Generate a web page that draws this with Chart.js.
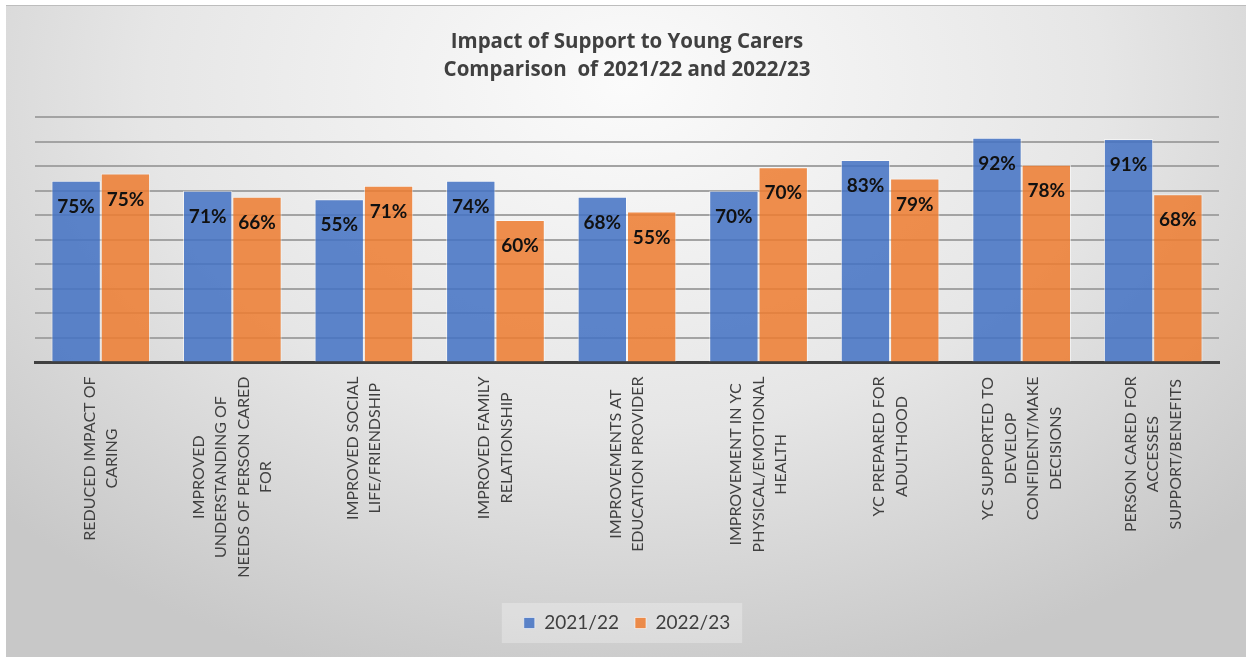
<!DOCTYPE html>
<html>
<head>
<meta charset="utf-8">
<script src="https://cdn.jsdelivr.net/npm/chart.js@4.4.1/dist/chart.umd.min.js"></script>
<style>
  html, body { margin: 0; padding: 0; background: #ffffff; }
  body { width: 1246px; height: 657px; position: relative; overflow: hidden; }
  #wrap {
    position: absolute; left: 6px; top: 5px; width: 1240px; height: 652px;
    background: radial-gradient(ellipse 70% 95% at 50% 12%, #fbfbfb 0%, #e6e6e6 55%, #c8c8c8 100%);
    border-top: 1px solid #bdbdbd;
    box-sizing: border-box;
  }
  canvas { display: block; }
</style>
</head>
<body>
<div id="wrap"><canvas id="c" width="1240" height="651"></canvas></div>
<script>
// ---- data ----
const categories = [
  ["REDUCED IMPACT OF", "CARING"],
  ["IMPROVED", "UNDERSTANDING OF", "NEEDS OF PERSON CARED", "FOR"],
  ["IMPROVED SOCIAL", "LIFE/FRIENDSHIP"],
  ["IMPROVED FAMILY", "RELATIONSHIP"],
  ["IMPROVEMENTS AT", "EDUCATION PROVIDER"],
  ["IMPROVEMENT IN YC", "PHYSICAL/EMOTIONAL", "HEALTH"],
  ["YC PREPARED FOR", "ADULTHOOD"],
  ["YC SUPPORTED TO", "DEVELOP", "CONFIDENT/MAKE", "DECISIONS"],
  ["PERSON CARED FOR", "ACCESSES", "SUPPORT/BENEFITS"]
];
const seriesNames = ["2021/22", "2022/23"];
const values2122 = [74, 70, 66.5, 74, 67.5, 70, 82.5, 91.5, 91];
const values2223 = [77, 67.5, 72, 58, 61.5, 79.5, 75, 80.5, 68.5];
const labels2122 = ["75%", "71%", "55%", "74%", "68%", "70%", "83%", "92%", "91%"];
const labels2223 = ["75%", "66%", "71%", "60%", "55%", "70%", "79%", "78%", "68%"];
const titleLines = ["Impact of Support to Young Carers", "Comparison  of 2021/22 and 2022/23"];

Chart.defaults.font.family = "Lato, 'Open Sans', sans-serif";
Chart.defaults.color = "#404040";

const valueLabelPlugin = {
  id: "valueLabels",
  afterDatasetsDraw(chart) {
    const ctx = chart.ctx;
    const all = [labels2122, labels2223];
    ctx.save();
    ctx.font = "bold 19px Lato, 'Open Sans', sans-serif";
    ctx.fillStyle = "#111111";
    ctx.textAlign = "center";
    ctx.textBaseline = "middle";
    chart.data.datasets.forEach((ds, di) => {
      const meta = chart.getDatasetMeta(di);
      meta.data.forEach((bar, i) => {
        ctx.fillText(all[di][i], bar.x, bar.y + 26);
      });
    });
    ctx.restore();
  }
};

const catLabelPlugin = {
  id: "catLabels",
  afterDraw(chart) {
    const ctx = chart.ctx;
    const xs = chart.scales.x;
    ctx.save();
    ctx.font = "16px Lato, 'Open Sans', sans-serif";
    ctx.fillStyle = "#404040";
    ctx.textAlign = "center";
    ctx.textBaseline = "middle";
    categories.forEach((lines, i) => {
      const cx = xs.getPixelForValue(i);
      let w = 0;
      lines.forEach(l => { w = Math.max(w, ctx.measureText(l).width); });
      const cy = chart.chartArea.bottom + 14 + w / 2;
      const n = lines.length;
      lines.forEach((l, j) => {
        ctx.save();
        ctx.translate(cx + (j - (n - 1) / 2) * 22.5, cy);
        ctx.rotate(-Math.PI / 2);
        ctx.fillText(l, 0, 0);
        ctx.restore();
      });
    });
    ctx.restore();
  }
};

const legendBgPlugin = {
  id: "legendBg",
  beforeDraw(chart) {
    const lg = chart.legend;
    if (!lg || !lg.legendHitBoxes || !lg.legendHitBoxes.length) return;
    const hb = lg.legendHitBoxes;
    const first = hb[0], last = hb[hb.length - 1];
    const cy = first.top + first.height / 2;
    const ctx = chart.ctx;
    ctx.save();
    ctx.fillStyle = "rgba(255,255,255,0.28)";
    ctx.fillRect(first.left - 22, cy - 20, (last.left + last.width + 12) - (first.left - 22), 40);
    ctx.restore();
  }
};

new Chart(document.getElementById("c"), {
  type: "bar",
  data: {
    labels: categories.map(l => l.join(" ")),
    datasets: [
      {
        label: seriesNames[0],
        data: values2122,
        backgroundColor: "rgba(68,114,196,0.86)",
        borderColor: "rgba(255,255,255,0.55)",
        borderWidth: 1
      },
      {
        label: seriesNames[1],
        data: values2223,
        backgroundColor: "rgba(237,125,49,0.86)",
        borderColor: "rgba(255,255,255,0.55)",
        borderWidth: 1
      }
    ]
  },
  options: {
    responsive: false,
    animation: false,
    layout: { padding: { left: 29, right: 27, top: 0, bottom: 14.5 } },
    datasets: { bar: { categoryPercentage: 0.75, barPercentage: 1.0 } },
    scales: {
      x: {
        grid: { display: false },
        border: { display: true, color: "#404040", width: 3 },
        ticks: { display: false },
        afterFit(s) { s.height = 235; }
      },
      y: {
        min: 0, max: 100,
        ticks: { display: false, stepSize: 10 },
        grid: { color: "#a3a3a3", lineWidth: 2, drawTicks: false },
        border: { display: false },
        afterFit(s) { s.width = 0; }
      }
    },
    plugins: {
      title: {
        display: true,
        text: titleLines,
        color: "#404040",
        font: { family: "'Open Sans', Lato, sans-serif", size: 20.5, weight: "bold", lineHeight: 1.3659 },
        padding: { top: 22, bottom: 33 }
      },
      legend: {
        position: "bottom",
        labels: {
          boxWidth: 11, boxHeight: 11, padding: 16,
          color: "#404040",
          font: { size: 19 }
        }
      },
      tooltip: { enabled: false }
    }
  },
  plugins: [legendBgPlugin, valueLabelPlugin, catLabelPlugin]
});
</script>
</body>
</html>
